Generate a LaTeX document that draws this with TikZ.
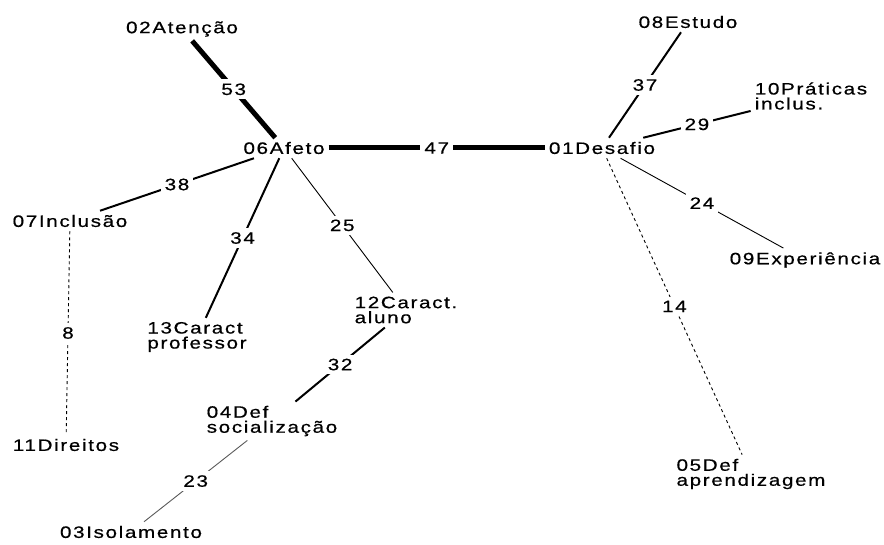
\documentclass[tikz,border=0pt]{standalone}
\usepackage{fontspec}
\setmainfont{Liberation Sans}[FakeStretch=1.25,LetterSpace=10,FakeBold=0.6]
\usepackage{tikz}
\tikzstyle{term} = [inner sep=4pt, align=left, font=\fontsize{16.5}{15}\selectfont]
\tikzstyle{weight} = [fill=white, text=black, inner sep=4pt, font=\fontsize{16.5}{15}\selectfont]
\tikzstyle{heavy} = [draw, line width=5pt]
\tikzstyle{medium} = [draw, line width=2pt]
\tikzstyle{light} = [draw, line width=0.9pt]
\tikzstyle{faint} = [draw=black!65, line width=0.9pt]
\tikzstyle{weak} = [draw, line width=0.9pt, dash pattern=on 3pt off 3pt]

\begin{document}
\begin{tikzpicture}[x=1pt, y=-1pt]
	\useasboundingbox (0,0) rectangle (884,545);
	
	\node [term] (atencao) at (182,29) {02Atenção};
	\node [term] (afeto) at (284,148) {06Afeto};
	\node [term] (desafio) at (602,148) {01Desafio};
	\node [term] (estudo) at (688,22) {08Estudo};
	\node [term] (praticas) at (811,96) {10Práticas\\inclus.};
	\node [term] (experiencia) at (805,260) {09Experiência};
	\node [term] (inclusao) at (70,221) {07Inclusão};
	\node [term] (direitos) at (66,445) {11Direitos};
	\node [term] (professor) at (197,337) {13Caract\\professor};
	\node [term] (aluno) at (406,310) {12Caract.\\aluno};
	\node [term] (socializacao) at (272,421) {04Def\\socialização};
	\node [term] (isolamento) at (131,532) {03Isolamento};
	\node [term] (aprendizagem) at (751,474) {05Def\\aprendizagem};
	
	\path [heavy] (afeto) -- node [weight] {53} (atencao);
	\path [heavy] (afeto) -- node [weight] {47} (desafio);
	\path [medium] (afeto) -- node [weight] {38} (inclusao);
	\path [medium] (afeto) -- node [weight] {34} (professor);
	\path [light] (afeto) -- node [weight] {25} (aluno);
	\path [medium] (aluno) -- node [weight] {32} (socializacao);
	\path [faint] (socializacao) -- node [weight] {23} (isolamento);
	\path [weak] (inclusao) -- node [weight] {8} (direitos);
	
	\path [medium] (desafio) -- node [weight] {37} (estudo);
	\path [medium] (desafio) -- node [weight] {29} (praticas);
	\path [light] (desafio) -- node [weight] {24} (experiencia);
	\path [weak] (desafio) -- node [weight] {14} (aprendizagem);
\end{tikzpicture}
\end{document}
